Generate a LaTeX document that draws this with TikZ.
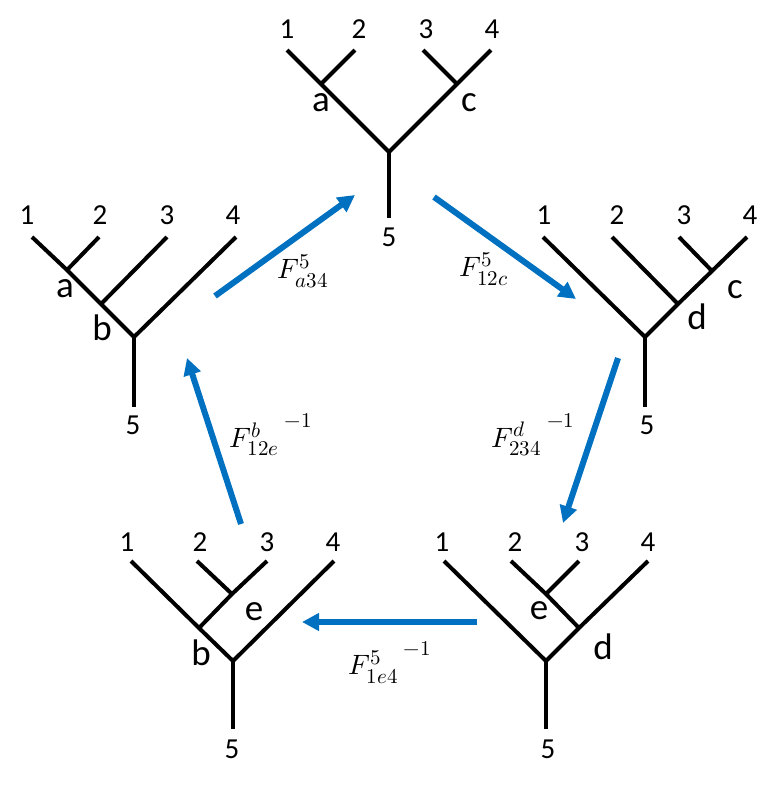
\documentclass[tikz,border=0pt]{standalone}
\usepackage{fontspec}
\usepackage{unicode-math}
\setmainfont{Carlito}
\setmathfont{Latin Modern Math}
\DeclareMathSizes{28}{28}{21}{15}
\usetikzlibrary{arrows.meta}
\definecolor{arrowblue}{HTML}{0070C0}
\begin{document}
\begin{tikzpicture}[x=1pt,y=-1pt,
  edge/.style={line width=4pt, line cap=butt, line join=miter},
  leaflbl/.style={font=\fontsize{29}{29}\selectfont, inner sep=0pt, anchor=center},
  vlbl/.style={font=\fontsize{37}{37}\selectfont, inner sep=0pt, anchor=center},
  move/.style={line width=6pt, draw=arrowblue, -{Triangle[length=17pt,width=17pt]}},
  flbl/.style={font=\fontsize{28}{28}\selectfont, inner sep=0pt, anchor=center}]
\useasboundingbox (0,0) rectangle (778,788);

% ---------- top tree ----------
\coordinate (T1) at (287,50);
\coordinate (T2) at (355,50);
\coordinate (T3) at (423,50);
\coordinate (T4) at (491,50);
\coordinate (Ta) at (321,84);
\coordinate (Tc) at (457,84);
\coordinate (Tr) at (389,152);
\coordinate (T5) at (389,218);
\draw[edge] (T1) -- (Ta) -- (Tr) -- (Tc) -- (T4);
\draw[edge] (T2) -- (Ta);
\draw[edge] (T3) -- (Tc);
\draw[edge] (Tr) -- (T5);
\node[leaflbl] (t1) at (287,29) {1};
\node[leaflbl] (t2) at (359,29) {2};
\node[leaflbl] (t3) at (426,29) {3};
\node[leaflbl] (t4) at (492,29) {4};
\node[leaflbl] (t5) at (389,237) {5};
\node[vlbl] (ta) at (321,103) {a};
\node[vlbl] (tc) at (469,103) {c};

% ---------- left tree ----------
\coordinate (L1) at (32,237);
\coordinate (L2) at (99,237);
\coordinate (L3) at (167,237);
\coordinate (L4) at (236,237);
\coordinate (La) at (67,270);
\coordinate (Lb) at (101,304);
\coordinate (Lr) at (134,337);
\coordinate (L5) at (134,407);
\draw[edge] (L1) -- (La) -- (Lb) -- (Lr) -- (L4);
\draw[edge] (L2) -- (La);
\draw[edge] (L3) -- (Lb);
\draw[edge] (Lr) -- (L5);
\node[leaflbl] (l1) at (27,215) {1};
\node[leaflbl] (l2) at (100,215) {2};
\node[leaflbl] (l3) at (167,215) {3};
\node[leaflbl] (l4) at (233,215) {4};
\node[leaflbl] (l5) at (133,425) {5};
\node[vlbl] (la) at (65,289) {a};
\node[vlbl] (lb) at (102,328) {b};

% ---------- right tree ----------
\coordinate (R1) at (543,237);
\coordinate (R2) at (612,237);
\coordinate (R3) at (679,237);
\coordinate (R4) at (747,237);
\coordinate (Rc) at (712,271);
\coordinate (Rd) at (678,304);
\coordinate (Rr) at (645,337);
\coordinate (R5) at (645,407);
\draw[edge] (R1) -- (Rr) -- (Rd) -- (Rc) -- (R4);
\draw[edge] (R2) -- (Rd);
\draw[edge] (R3) -- (Rc);
\draw[edge] (Rr) -- (R5);
\node[leaflbl] (r1) at (544,215) {1};
\node[leaflbl] (r2) at (617,215) {2};
\node[leaflbl] (r3) at (684,215) {3};
\node[leaflbl] (r4) at (750,215) {4};
\node[leaflbl] (r5) at (647,425) {5};
\node[vlbl] (rc) at (735,290) {c};
\node[vlbl] (rd) at (697,317) {d};

% ---------- bottom-left tree ----------
\coordinate (P1) at (131,561);
\coordinate (P2) at (197,561);
\coordinate (P3) at (267,561);
\coordinate (P4) at (334,561);
\coordinate (Pe) at (232,594);
\coordinate (Pb) at (199,628);
\coordinate (Pr) at (233,661);
\coordinate (P5) at (233,729);
\draw[edge] (P1) -- (Pb) -- (Pr) -- (P4);
\draw[edge] (Pb) -- (Pe) -- (P3);
\draw[edge] (P2) -- (Pe);
\draw[edge] (Pr) -- (P5);
\node[leaflbl] (p1) at (127,542) {1};
\node[leaflbl] (p2) at (200,542) {2};
\node[leaflbl] (p3) at (267,542) {3};
\node[leaflbl] (p4) at (333,542) {4};
\node[leaflbl] (p5) at (232,749) {5};
\node[vlbl] (pe) at (254,612) {e};
\node[vlbl] (pb) at (201,653) {b};

% ---------- bottom-right tree ----------
\coordinate (Q1) at (444,561);
\coordinate (Q2) at (511,561);
\coordinate (Q3) at (579,561);
\coordinate (Q4) at (648,561);
\coordinate (Qe) at (546,594);
\coordinate (Qd) at (579,628);
\coordinate (Qr) at (546,661);
\coordinate (Q5) at (546,729);
\draw[edge] (Q1) -- (Qr) -- (Qd) -- (Q4);
\draw[edge] (Q2) -- (Qe) -- (Qd);
\draw[edge] (Q3) -- (Qe);
\draw[edge] (Qr) -- (Q5);
\node[leaflbl] (q1) at (442,542) {1};
\node[leaflbl] (q2) at (515,542) {2};
\node[leaflbl] (q3) at (582,542) {3};
\node[leaflbl] (q4) at (648,542) {4};
\node[leaflbl] (q5) at (548,749) {5};
\node[vlbl] (qe) at (539,611) {e};
\node[vlbl] (qd) at (603,647) {d};

% ---------- moves ----------
\coordinate (A1s) at (215,296);
\coordinate (A1e) at (355,195);
\coordinate (A2s) at (434,197);
\coordinate (A2e) at (576,299);
\coordinate (A3s) at (618,358);
\coordinate (A3e) at (563,523);
\coordinate (A4s) at (477,622);
\coordinate (A4e) at (302,622);
\coordinate (A5s) at (241,524);
\coordinate (A5e) at (187,358);
\draw[move] (A1s) -- (A1e);
\draw[move] (A2s) -- (A2e);
\draw[move] (A3s) -- (A3e);
\draw[move] (A4s) -- (A4e);
\draw[move] (A5s) -- (A5e);

\node[flbl] (f1) at (303,271) {$F^{5}_{a34}$};
\node[flbl] (f2) at (484,269) {$F^{5}_{12c}$};
\node[flbl] (f3) at (533,435) {${F^{d}_{234}}^{\;-1}$};
\node[flbl] (f4) at (390,663) {${F^{5}_{1e4}}^{\;-1}$};
\node[flbl] (f5) at (271,435) {${F^{b}_{12e}}^{\;-1}$};
\end{tikzpicture}
\end{document}
